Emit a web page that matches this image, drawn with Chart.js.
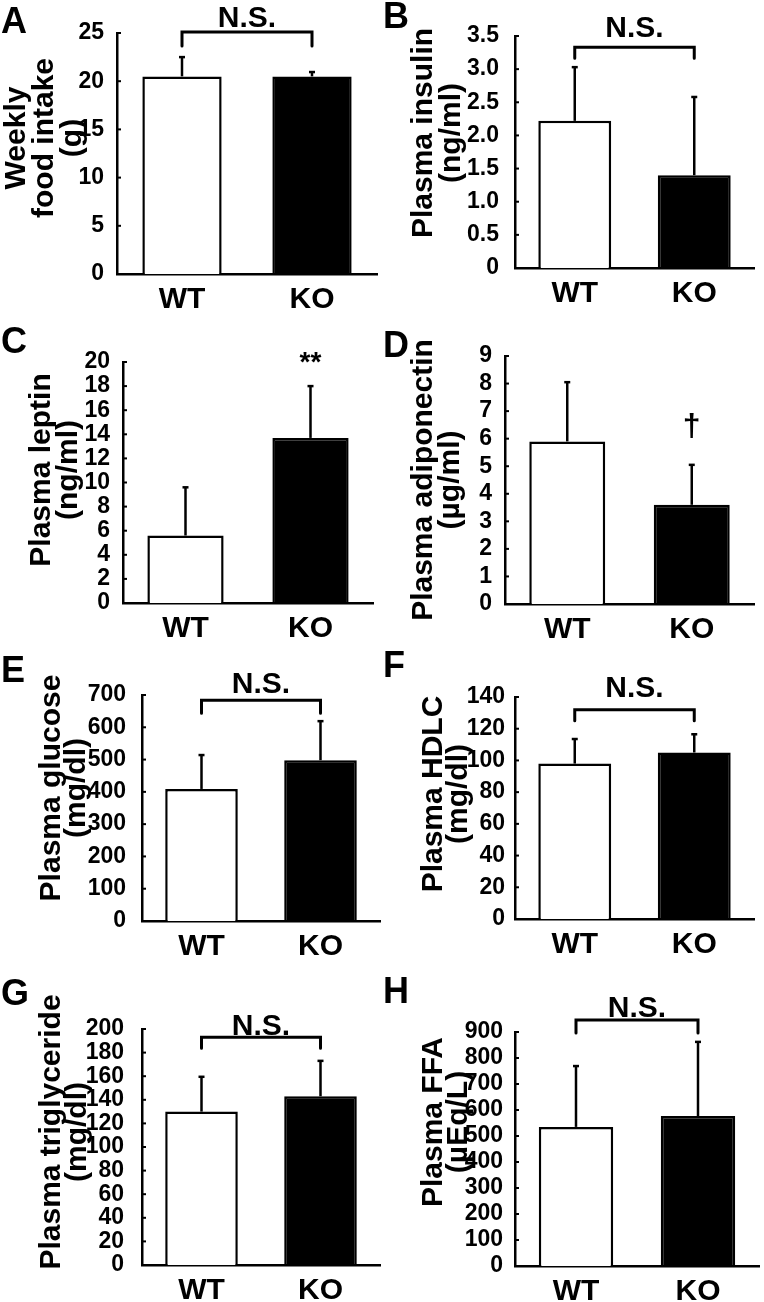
<!DOCTYPE html>
<html>
<head>
<meta charset="utf-8">
<script src="https://cdn.jsdelivr.net/npm/chart.js@4.4.1/dist/chart.umd.min.js"></script>
<style>
  body { margin: 0; background: #fff; }
  #wrap { position: relative; width: 764px; height: 1302px; overflow: hidden; }
  canvas { position: absolute; }
</style>
</head>
<body>
<div id="wrap"></div>
<script>
// Data
const groups = ['WT', 'KO'];

const foodIntake = [20.5, 20.5];
const foodIntakeSD = [2.0, 0.45];
const foodIntakeTicks = [0, 5, 10, 15, 20, 25];

const insulin = [2.22, 1.40];
const insulinSD = [0.81, 1.18];
const insulinTicks = [0, 0.5, 1.0, 1.5, 2.0, 2.5, 3.0, 3.5];

const leptin = [5.6, 13.7];
const leptinSD = [4.0, 4.3];
const leptinTicks = [0, 2, 4, 6, 8, 10, 12, 14, 16, 18, 20];

const adiponectin = [5.9, 3.6];
const adiponectinSD = [2.15, 1.45];
const adiponectinTicks = [0, 1, 2, 3, 4, 5, 6, 7, 8, 9];

const glucose = [409, 498];
const glucoseSD = [105, 121];
const glucoseTicks = [0, 100, 200, 300, 400, 500, 600, 700];

const hdlc = [98, 105];
const hdlcSD = [15.5, 11.5];
const hdlcTicks = [0, 20, 40, 60, 80, 100, 120, 140];

const triglyceride = [130, 143];
const triglycerideSD = [29.5, 30];
const triglycerideTicks = [0, 20, 40, 60, 80, 100, 120, 140, 160, 180, 200];

const ffa = [535, 577];
const ffaSD = [234, 285];
const ffaTicks = [0, 100, 200, 300, 400, 500, 600, 700, 800, 900];

// Layout of the 8 panels
const panels = [
  { letter: 'A', left: 0, top: 0, w: 382, h: 320, area: [117, 33, 377, 274], pad: 5,
    title: ['Weekly', 'food intake', '(g)'], titleX: 25, titleY: 138, titleFont: 30, titleGap: 28, letterY: 33,
    means: foodIntake, sd: foodIntakeSD, ticks: foodIntakeTicks,
    mark: { type: 'bracket', at: 25.1, leg: 14, gap: 5 } },
  { letter: 'B', left: 382, top: 0, w: 382, h: 320, area: [133, 36, 372, 268], pad: 8,
    title: ['Plasma insulin', '(ng/ml)'], titleX: 50, titleY: 133, titleFont: 30, titleGap: 28, letterY: 28,
    means: insulin, sd: insulinSD, ticks: insulinTicks, fmt: v => v === 0 ? '0' : v.toFixed(1),
    mark: { type: 'bracket', at: 3.33, leg: 11, gap: 10 } },
  { letter: 'C', left: 0, top: 320, w: 382, h: 330, area: [123, 42, 373, 283], pad: 5,
    title: ['Plasma leptin', '(ng/ml)'], titleX: 50, titleY: 150, titleFont: 30, titleGap: 27, letterY: 33,
    means: leptin, sd: leptinSD, ticks: leptinTicks,
    mark: { type: 'text', text: '**', at: 19.9, size: 28 } },
  { letter: 'D', left: 382, top: 320, w: 382, h: 330, area: [123, 36, 372, 284], pad: 5,
    title: ['Plasma adiponectin', '(µg/ml)'], titleX: 50, titleY: 160, titleFont: 30, titleGap: 27, letterY: 37,
    means: adiponectin, sd: adiponectinSD, ticks: adiponectinTicks,
    mark: { type: 'text', text: '†', at: 6.4, size: 32 } },
  { letter: 'E', left: 0, top: 650, w: 382, h: 320, area: [142, 45, 380, 271], pad: 8,
    title: ['Plasma glucose', '(mg/dl)'], titleX: 60, titleY: 138, titleFont: 30, titleGap: 25, letterY: 32,
    means: glucose, sd: glucoseSD, ticks: glucoseTicks,
    mark: { type: 'bracket', at: 684, leg: 13, gap: 7 } },
  { letter: 'F', left: 382, top: 650, w: 382, h: 320, area: [133, 47, 372, 269], pad: 2,
    title: ['Plasma HDLC', '(mg/dl)'], titleX: 60, titleY: 144, titleFont: 30, titleGap: 25, letterY: 27,
    means: hdlc, sd: hdlcSD, ticks: hdlcTicks,
    mark: { type: 'bracket', at: 131.9, leg: 11, gap: 13 } },
  { letter: 'G', left: 0, top: 970, w: 382, h: 332, area: [142, 59, 380, 295], pad: 10,
    title: ['Plasma triglyceride', '(mg/dl)'], titleX: 60, titleY: 162, titleFont: 30, titleGap: 26, letterY: 35,
    means: triglyceride, sd: triglycerideSD, ticks: triglycerideTicks,
    mark: { type: 'bracket', at: 193, leg: 11, gap: 2 } },
  { letter: 'H', left: 382, top: 970, w: 382, h: 332, area: [133, 62, 377, 296], pad: 4,
    title: ['Plasma FFA', '(µEq/L)'], titleX: 60, titleY: 152, titleFont: 30, titleGap: 25, letterY: 33,
    means: ffa, sd: ffaSD, ticks: ffaTicks,
    mark: { type: 'bracket', at: 946, leg: 13, gap: 3 } }
];

const FONT = '"Liberation Sans", Arial, Helvetica, sans-serif';

function makePanel(p) {
  const canvas = document.createElement('canvas');
  canvas.width = p.w;
  canvas.height = p.h;
  canvas.style.left = p.left + 'px';
  canvas.style.top = p.top + 'px';
  canvas.style.width = p.w + 'px';
  canvas.style.height = p.h + 'px';
  document.getElementById('wrap').appendChild(canvas);

  const [L, T, R, B] = p.area;

  const extras = {
    id: 'extras',
    afterDatasetsDraw(chart) {
      const { ctx, scales: { x, y } } = chart;
      ctx.save();
      ctx.strokeStyle = '#000';
      ctx.fillStyle = '#000';

      // error bars (upper only)
      ctx.lineWidth = 2.5;
      p.means.forEach((m, i) => {
        const cx = x.getPixelForValue(i);
        const y0 = y.getPixelForValue(m);
        const y1 = y.getPixelForValue(m + p.sd[i]);
        ctx.beginPath();
        ctx.moveTo(cx, y0);
        ctx.lineTo(cx, y1);
        ctx.stroke();
        ctx.beginPath();
        ctx.moveTo(cx - 3, y1);
        ctx.lineTo(cx + 3, y1);
        ctx.stroke();
      });

      // small inward ticks on y axis
      ctx.lineWidth = 2;
      p.ticks.forEach(v => {
        if (v === 0) return;
        const ty = y.getPixelForValue(v);
        ctx.beginPath();
        ctx.moveTo(L, ty);
        ctx.lineTo(L + 4, ty);
        ctx.stroke();
      });

      // significance marks
      const mk = p.mark;
      if (mk.type === 'bracket') {
        const x0 = x.getPixelForValue(0), x1 = x.getPixelForValue(1);
        const by = y.getPixelForValue(mk.at);
        ctx.lineWidth = 3;
        ctx.lineCap = 'round';
        ctx.beginPath();
        ctx.moveTo(x0, by + mk.leg);
        ctx.lineTo(x0, by);
        ctx.lineTo(x1, by);
        ctx.lineTo(x1, by + mk.leg);
        ctx.stroke();
        ctx.font = 'bold 30px ' + FONT;
        ctx.textAlign = 'center';
        ctx.textBaseline = 'alphabetic';
        ctx.fillText('N.S.', (x0 + x1) / 2, by - mk.gap);
      } else {
        ctx.font = 'bold ' + mk.size + 'px ' + FONT;
        ctx.textAlign = 'center';
        ctx.textBaseline = 'middle';
        ctx.fillText(mk.text, x.getPixelForValue(1), y.getPixelForValue(mk.at));
      }

      // rotated axis title
      ctx.save();
      ctx.translate(p.titleX, p.titleY);
      ctx.rotate(-Math.PI / 2);
      ctx.font = 'bold ' + p.titleFont + 'px ' + FONT;
      ctx.textAlign = 'center';
      ctx.textBaseline = 'alphabetic';
      p.title.forEach((line, i) => ctx.fillText(line, 0, i * p.titleGap));
      ctx.restore();

      // panel letter
      ctx.font = 'bold 36px ' + FONT;
      ctx.textAlign = 'left';
      ctx.textBaseline = 'alphabetic';
      ctx.fillText(p.letter, 1, p.letterY);
      ctx.restore();
    }
  };

  new Chart(canvas, {
    type: 'bar',
    data: {
      labels: groups,
      datasets: [{
        data: p.means,
        backgroundColor: ['#ffffff', '#000000'],
        borderColor: '#000000',
        borderWidth: 2.5,
        barPercentage: 0.61,
        categoryPercentage: 1
      }]
    },
    options: {
      responsive: false,
      animation: false,
      events: [],
      layout: { padding: { left: 0, top: T, right: p.w - R, bottom: 0 } },
      plugins: { legend: { display: false }, tooltip: { enabled: false } },
      scales: {
        x: {
          grid: { display: false },
          border: { display: true, color: '#000', width: 2.5 },
          ticks: { color: '#000', font: { family: FONT, size: 30, weight: 'bold' }, padding: 0 },
          afterFit: s => { s.height = p.h - B; }
        },
        y: {
          min: 0,
          max: p.ticks[p.ticks.length - 1],
          grid: { display: false },
          border: { display: true, color: '#000', width: 2.5 },
          afterBuildTicks: s => { s.ticks = p.ticks.map(v => ({ value: v })); },
          ticks: {
            autoSkip: false,
            color: '#000',
            font: { family: FONT, size: 23, weight: 'bold' },
            padding: p.pad,
            callback: v => p.fmt ? p.fmt(v) : String(v)
          },
          afterFit: s => { s.width = L; }
        }
      }
    },
    plugins: [extras]
  });
}

panels.forEach(makePanel);
</script>
</body>
</html>
